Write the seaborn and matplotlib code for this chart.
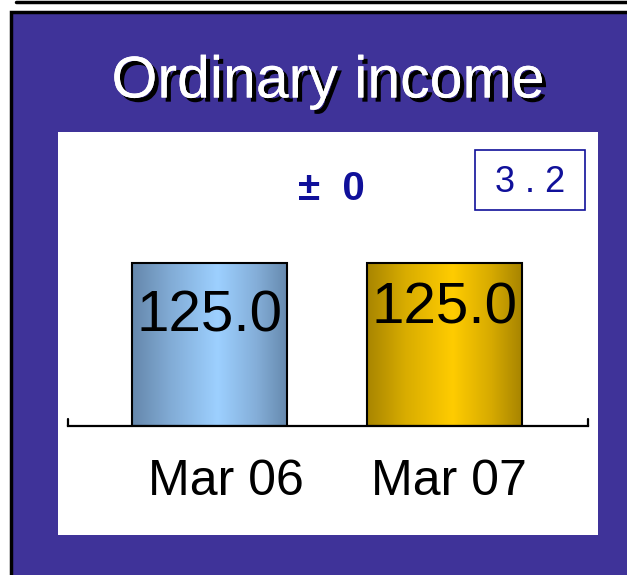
import numpy as np
import pandas as pd
import matplotlib
matplotlib.use("Agg")
import matplotlib.pyplot as plt
import matplotlib.patheffects as pe
import matplotlib.transforms as mtransforms
from matplotlib.colors import LinearSegmentedColormap
from matplotlib.patches import Rectangle
from matplotlib.lines import Line2D
import seaborn as sns

# data
periods = ["Mar 06", "Mar 07"]
income = [125.0, 125.0]
value_labels = ["125.0", "125.0"]
change_text = "\u00b1  0"
box_text = "3 . 2"
title = "Ordinary income"

sns.set_style("white")
plt.rcParams["font.family"] = ["Liberation Sans", "DejaVu Sans"]
plt.rcParams["text.color"] = "black"
plt.rcParams["xtick.color"] = "black"

purple = "#3f3399"
navy = "#10109a"
gradients = [
    ["#6587ab", "#82acd6", "#9dd0ff", "#84aed8", "#6689ad"],
    ["#a88500", "#d9ad00", "#ffcc00", "#d6aa00", "#a68300"],
]

W, H = 627, 575
fig = plt.figure(figsize=(W / 100, H / 100), dpi=100, facecolor="white")

# top rule and purple panel
fig.add_artist(Line2D([16 / W, 1], [1 - 1.5 / H, 1 - 1.5 / H], color="black", lw=2.5, zorder=-3))
fig.add_artist(Rectangle((11 / W, -0.01), 1, 1 - 12 / H + 0.01, facecolor=purple,
                         edgecolor="black", lw=2.5, zorder=-3))
# white plotting panel
fig.add_artist(Rectangle((58 / W, 1 - 535 / H), 540 / W, 403 / H, facecolor="white",
                         edgecolor="none", zorder=-2))

fig.text(328 / W, 1 - 82 / H, title, color="white", fontsize=42.5, ha="center", va="center",
         path_effects=[pe.withSimplePatchShadow(offset=(3, -3), shadow_rgbFace="black", alpha=1),
                       pe.Normal()])

ax = fig.add_axes([68 / W, 1 - 426 / H, 520 / W, 294 / H])
ax.patch.set_alpha(0)
df = pd.DataFrame({"period": periods, "income": income})
sns.barplot(data=df, x="period", y="income", ax=ax, width=0.66, color="white",
            edgecolor="black", linewidth=1.5)
ax.set_xlabel("")
ax.set_ylabel("")
ax.set_yticks([])
for s in ["top", "left", "right"]:
    ax.spines[s].set_visible(False)
ax.spines["bottom"].set_linewidth(1.6)
ax.spines["bottom"].set_color("black")
ax.tick_params(axis="x", length=0, pad=24, labelsize=36, labelcolor="black")
for xe in [0, 1]:
    ax.plot([xe, xe], [0, 0.025], transform=ax.transAxes, color="black", lw=1.6, clip_on=False)

# the category labels sit slightly right of the bar centres
for lab, dx in zip(ax.get_xticklabels(), [12, 3]):
    lab.set_transform(lab.get_transform() + mtransforms.ScaledTranslation(dx / 72, 0, fig.dpi_scale_trans))

grad = np.linspace(0, 1, 256).reshape(1, -1)
offsets = [-39, -33]
for i, patch in enumerate(ax.patches):
    x0, y0 = patch.get_x(), patch.get_y()
    w, h = patch.get_width(), patch.get_height()
    cmap = LinearSegmentedColormap.from_list(f"g{i}", list(zip([0, 0.25, 0.55, 0.8, 1], gradients[i])))
    im = ax.imshow(grad, cmap=cmap, aspect="auto", extent=[x0, x0 + w, y0, y0 + h], zorder=2)
    im.set_clip_path(patch)
    patch.set_facecolor("none")
    patch.set_zorder(3)
    ax.annotate(value_labels[i], xy=(x0 + w / 2, h), xytext=(0, offsets[i]),
                textcoords="offset points", ha="center", va="center", fontsize=42,
                color="black", zorder=4)
ax.set_xlim(-0.6, 1.61)
ax.set_ylim(0, 225)

fig.text(331 / W, 1 - 189 / H, change_text, color=navy, fontsize=29, fontweight="bold",
         ha="center", va="center")
fig.add_artist(Rectangle((475 / W, 1 - 210 / H), 110 / W, 60 / H, facecolor="none",
                         edgecolor=navy, lw=1.2))
fig.text(530 / W, 1 - 182 / H, box_text, color=navy, fontsize=26, ha="center", va="center")

fig.savefig("out.png", dpi=100)
